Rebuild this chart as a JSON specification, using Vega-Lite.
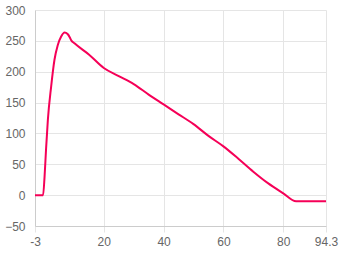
{
  "$schema": "https://vega.github.io/schema/vega-lite/v6.json",
  "autosize": "none",
  "width": 291,
  "height": 216,
  "padding": {"left": 35, "top": 10, "right": 14, "bottom": 29},
  "background": "white",
  "data": {"values": [
    {"x": -3, "y": 0}, {"x": -0.3, "y": 0}, {"x": 0.2, "y": 30}, {"x": 0.7, "y": 75},
    {"x": 1.3, "y": 122}, {"x": 2.4, "y": 176}, {"x": 3.5, "y": 219}, {"x": 4.6, "y": 243},
    {"x": 5.75, "y": 257}, {"x": 6.9, "y": 263.5}, {"x": 7.9, "y": 261}, {"x": 8.6, "y": 256},
    {"x": 9.1, "y": 251}, {"x": 10.2, "y": 246}, {"x": 15, "y": 228},
    {"x": 20, "y": 206}, {"x": 25, "y": 193}, {"x": 30, "y": 180}, {"x": 35, "y": 163},
    {"x": 40, "y": 147}, {"x": 45, "y": 131}, {"x": 50, "y": 115},
    {"x": 55, "y": 96}, {"x": 60, "y": 79}, {"x": 65, "y": 59}, {"x": 70, "y": 38},
    {"x": 75, "y": 19}, {"x": 80, "y": 3}, {"x": 84.3, "y": -10}, {"x": 94.3, "y": -10}
  ]},
  "mark": {"type": "line", "color": "#f50057", "strokeWidth": 2, "interpolate": "monotone", "clip": true},
  "encoding": {
    "x": {"field": "x", "type": "quantitative",
      "scale": {"domain": [-3, 94.3], "nice": false, "zero": false},
      "axis": {"title": null, "values": [-3, 20, 40, 60, 80, 94.3], "labelExpr": "'' + datum.value",
        "labelFont": "Liberation Sans", "labelFontSize": 12, "labelColor": "#666",
        "gridColor": "#e5e5e5", "domainColor": "#cccccc", "tickColor": "#e5e5e5",
        "tickSize": 6, "labelPadding": 4, "labelFlush": false}},
    "y": {"field": "y", "type": "quantitative",
      "scale": {"domain": [-50, 300], "nice": false, "zero": false},
      "axis": {"title": null, "values": [-50, 0, 50, 100, 150, 200, 250, 300],
        "labelFont": "Liberation Sans", "labelFontSize": 12, "labelColor": "#666",
        "gridColor": "#e5e5e5", "domainColor": "#cccccc", "ticks": false,
        "labelPadding": 10}}
  },
  "config": {"view": {"stroke": null}}
}
